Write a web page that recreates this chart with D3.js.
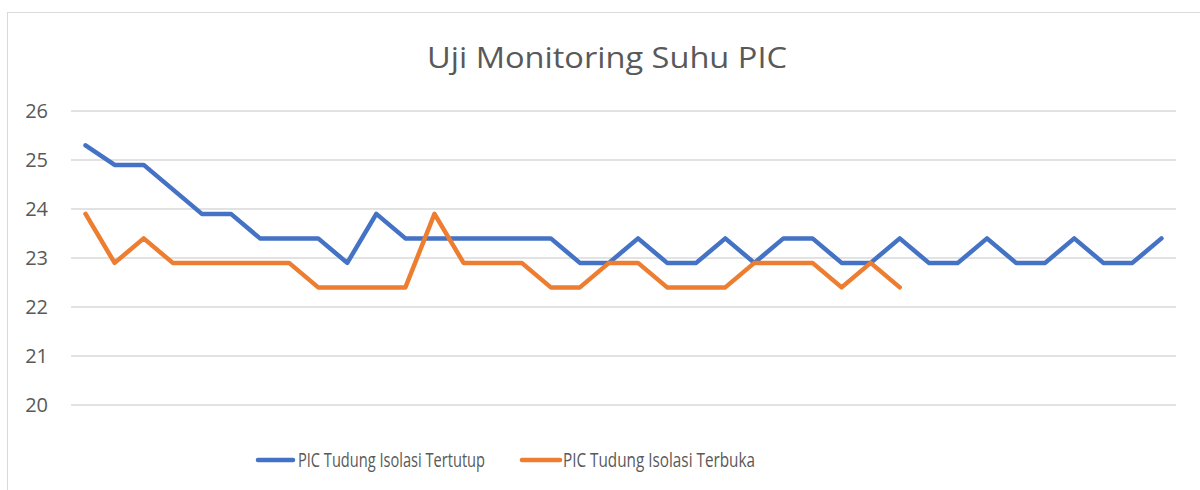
<!DOCTYPE html>
<html>
<head>
<meta charset="utf-8">
<script src="https://cdn.jsdelivr.net/npm/d3@7"></script>
<style>
  html, body { margin: 0; padding: 0; background: #fff; }
  svg { display: block; }
  text { font-family: "Open Sans", "Liberation Sans", sans-serif; fill: #595959; }
</style>
</head>
<body>
<svg id="chart" width="1200" height="490"></svg>
<script>
const title = "Uji Monitoring Suhu PIC";
const seriesNames = ["PIC Tudung Isolasi Tertutup", "PIC Tudung Isolasi Terbuka"];
const tertutup = [25.3, 24.9, 24.9, 24.4, 23.9, 23.9, 23.4, 23.4, 23.4, 22.9,
  23.9, 23.4, 23.4, 23.4, 23.4, 23.4, 23.4, 22.9, 22.9, 23.4,
  22.9, 22.9, 23.4, 22.9, 23.4, 23.4, 22.9, 22.9, 23.4, 22.9,
  22.9, 23.4, 22.9, 22.9, 23.4, 22.9, 22.9, 23.4];
const terbuka = [23.9, 22.9, 23.4, 22.9, 22.9, 22.9, 22.9, 22.9, 22.4, 22.4,
  22.4, 22.4, 23.9, 22.9, 22.9, 22.9, 22.4, 22.4, 22.9, 22.9,
  22.4, 22.4, 22.4, 22.9, 22.9, 22.9, 22.4, 22.9, 22.4];
const yTicks = [20, 21, 22, 23, 24, 25, 26];
const categories = tertutup.map((d, i) => i + 1);
const colors = ["#4472C4", "#ED7D31"];

const svg = d3.select("#chart");

// chart border
svg.append("rect").attr("x", 7.5).attr("y", 12.5).attr("width", 1200).attr("height", 490)
  .attr("fill", "none").attr("stroke", "#D9D9D9").attr("stroke-width", 1);

const plotLeft = 71, plotRight = 1176;
const x = d3.scaleBand().domain(categories).range([plotLeft, plotRight]);
const y = d3.scaleLinear().domain([20, 26]).range([405, 111]);
const cx = d => x(d) + x.bandwidth() / 2;

// gridlines
svg.append("g").selectAll("line").data(yTicks).join("line")
  .attr("x1", plotLeft).attr("x2", plotRight)
  .attr("y1", d => y(d)).attr("y2", d => y(d))
  .attr("stroke", "#D9D9D9").attr("stroke-width", 1.5);

// y axis labels
const yAxis = d3.axisLeft(y).tickValues(yTicks).tickSize(0).tickPadding(0).tickFormat(d3.format("d"));
const ga = svg.append("g").attr("transform", "translate(48,0)").call(yAxis);
ga.select(".domain").remove();
ga.selectAll("text").attr("font-size", 20).style("fill", "#595959")
  .attr("font-family", "\"Open Sans\", sans-serif").attr("dy", "0.3em");

// lines
const line = d3.line().x((d, i) => cx(categories[i])).y(d => y(d));
[tertutup, terbuka].forEach((s, k) => {
  svg.append("path").datum(s).attr("d", line)
    .attr("fill", "none").attr("stroke", colors[k]).attr("stroke-width", 4.5)
    .attr("stroke-linejoin", "round").attr("stroke-linecap", "round");
});

// title
svg.append("text").attr("x", 607).attr("y", 68).attr("text-anchor", "middle")
  .attr("font-size", 29).attr("textLength", 360).attr("lengthAdjust", "spacingAndGlyphs")
  .text(title);

// legend
const legend = [
  { x1: 258, x2: 293, tx: 298, tl: 187 },
  { x1: 522, x2: 560, tx: 563, tl: 192 }
];
legend.forEach((l, k) => {
  svg.append("line").attr("x1", l.x1).attr("x2", l.x2).attr("y1", 460).attr("y2", 460)
    .attr("stroke", colors[k]).attr("stroke-width", 4.5).attr("stroke-linecap", "round");
  svg.append("text").attr("x", l.tx).attr("y", 467).attr("font-size", 20)
    .attr("textLength", l.tl).attr("lengthAdjust", "spacingAndGlyphs")
    .text(seriesNames[k]);
});
</script>
</body>
</html>
